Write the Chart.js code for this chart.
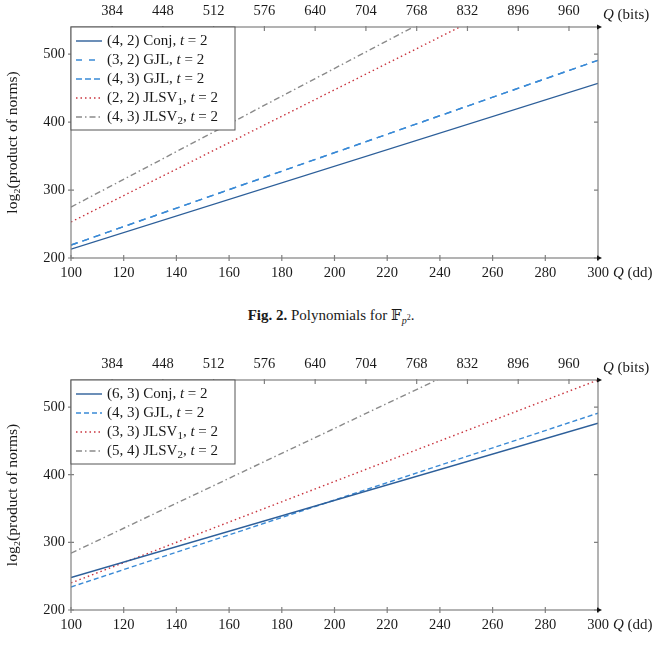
<!DOCTYPE html>
<html>
<head>
<meta charset="utf-8">
<script src="https://cdn.jsdelivr.net/npm/chart.js@4.4.0/dist/chart.umd.min.js"></script>
<style>
  body { margin: 0; background: #fff; width: 660px; height: 660px; position: relative; overflow: hidden;
         font-family: 'Liberation Serif', 'DejaVu Serif', serif; }
  canvas { position: absolute; left: 0; }
  #c1 { top: 0; }
  #c2 { top: 353px; }
  #cap { position: absolute; top: 305px; left: 0; width: 662px; text-align: center; font-size: 15px;
         line-height: 20px; color: #1a1a1a; }
  #cap sub { font-size: 10px; }
  #cap sup { font-size: 8px; }
</style>
</head>
<body>
<canvas id="c1" width="660" height="290"></canvas>
<div id="cap"><b>Fig. 2.</b> Polynomials for 𝔽<sub><i>p</i><sup>2</sup></sub>.</div>
<canvas id="c2" width="660" height="289"></canvas>

<script>
// données (Q en chiffres décimaux)
const qDD = [100, 300];
const bitsTicks = [384, 448, 512, 576, 640, 704, 768, 832, 896, 960];
const yTicks = [200, 300, 400, 500];

// graphique du haut
const topLabels = ['(4, 2) Conj, $t$ = 2', '(3, 2) GJL, $t$ = 2', '(4, 3) GJL, $t$ = 2',
                   '(2, 2) JLSV_1, $t$ = 2', '(4, 3) JLSV_2, $t$ = 2'];
const topConj42 = [213, 457];
const topGJL32 = [219, 491];
const topGJL43 = [219, 491];
const topJLSV1_22 = [253, 642];
const topJLSV2_43 = [275, 683];

// graphique du bas
const botLabels = ['(6, 3) Conj, $t$ = 2', '(4, 3) GJL, $t$ = 2',
                   '(3, 3) JLSV_1, $t$ = 2', '(5, 4) JLSV_2, $t$ = 2'];
const botConj63 = [248, 476];
const botGJL43 = [234, 491];
const botJLSV1_33 = [240, 540];
const botJLSV2_54 = [284, 653];

const SERIF = "'Liberation Serif', 'DejaVu Serif', serif";
const AXIS = '#808080';

// dash = tracé, key = échantillon de la légende
const styleConj = { color: '#2d5f9a', dash: [], key: [] };
const styleGJLa = { color: '#3a8ad6', dash: [7, 5], key: [6, 7] };
const styleGJLb = { color: '#3a8ad6', dash: [7, 5], key: [6, 3] };
const styleGJLc = { color: '#3a8ad6', dash: [5, 3], key: [5, 3] };
const styleJ1 = { color: '#c9343e', dash: [1.5, 3], key: [1.5, 3] };
const styleJ2 = { color: '#8a8a8a', dash: [6, 3, 1.5, 3], key: [6, 3, 1.5, 3] };

function drawRich(ctx, str, x, y, size) {
    const parts = str.split(/(\$[^$]+\$|_\d)/).filter(s => s);
    parts.forEach(p => {
        let font = size + 'px ' + SERIF, dy = 0, txt = p;
        if (p[0] === '$') { txt = p.slice(1, -1); font = 'italic ' + font; }
        else if (p[0] === '_') { txt = p.slice(1); font = Math.round(size * 0.7) + 'px ' + SERIF; dy = size * 0.28; }
        ctx.font = font;
        ctx.fillText(txt, x, y + dy);
        x += ctx.measureText(txt).width;
    });
}

// cadre, graduations, flèches, légende
const framePlugin = {
    id: 'frame',
    afterDraw(chart) {
        const ctx = chart.ctx;
        const a = chart.chartArea;
        const sx = chart.scales.x, sx2 = chart.scales.x2, sy = chart.scales.y;
        ctx.save();
        ctx.strokeStyle = AXIS;
        ctx.lineWidth = 1.2;
        ctx.setLineDash([]);
        ctx.strokeRect(a.left, a.top, a.right - a.left, a.bottom - a.top);
        ctx.beginPath();
        sx.ticks.forEach(t => {
            const px = sx.getPixelForValue(t.value);
            ctx.moveTo(px, a.bottom - 3); ctx.lineTo(px, a.bottom + 3);
        });
        sx2.ticks.forEach(t => {
            const px = sx2.getPixelForValue(t.value);
            ctx.moveTo(px, a.top - 1); ctx.lineTo(px, a.top + 4);
        });
        sy.ticks.forEach(t => {
            const py = sy.getPixelForValue(t.value);
            ctx.moveTo(a.left - 3, py); ctx.lineTo(a.left + 3, py);
            ctx.moveTo(a.right - 4, py); ctx.lineTo(a.right, py);
        });
        ctx.stroke();
        // flèches
        ctx.fillStyle = '#111';
        [a.bottom, a.top].forEach(py => {
            ctx.beginPath();
            ctx.moveTo(a.right + 4, py);
            ctx.lineTo(a.right - 1, py - 2.5);
            ctx.lineTo(a.right - 1, py + 2.5);
            ctx.closePath();
            ctx.fill();
        });
        // titres des axes x
        ctx.fillStyle = '#1a1a1a';
        ctx.textBaseline = 'middle';
        ctx.textAlign = 'left';
        drawRich(ctx, '$Q$ (dd)', a.right + 15, a.bottom + 15, 15);
        drawRich(ctx, '$Q$ (bits)', a.right + 5, a.top - 12, 15);
        // légende
        const n = chart.data.datasets.length;
        const lx = a.left, ly = a.top, lw = 164, lh = n * 19 + 8;
        ctx.fillStyle = '#fff';
        ctx.fillRect(lx, ly, lw, lh);
        ctx.strokeStyle = '#555';
        ctx.lineWidth = 1;
        ctx.strokeRect(lx, ly, lw, lh);
        chart.data.datasets.forEach((ds, i) => {
            const cy = ly + 14 + i * 19;
            ctx.strokeStyle = ds.borderColor;
            ctx.lineWidth = ds.borderWidth;
            ctx.setLineDash(ds.keyDash);
            ctx.beginPath();
            ctx.moveTo(lx + 5, cy); ctx.lineTo(lx + 31, cy);
            ctx.stroke();
            ctx.setLineDash([]);
            ctx.fillStyle = '#1a1a1a';
            drawRich(ctx, ds.label, lx + 36, cy, 15);
        });
        ctx.restore();
    }
};

function makeChart(id, labels, series, styles, plotBottom) {
    const canvas = document.getElementById(id);
    const datasets = series.map((vals, i) => ({
        label: labels[i],
        data: qDD.map((q, k) => ({ x: q, y: vals[k] })),
        borderColor: styles[i].color,
        borderDash: styles[i].dash,
        keyDash: styles[i].key,
        borderWidth: 1.4,
        pointRadius: 0,
        fill: false,
        tension: 0
    }));
    const tickFont = { family: SERIF, size: 14.5 };
    return new Chart(canvas, {
        type: 'line',
        data: { datasets },
        options: {
            responsive: false,
            animation: false,
            layout: { padding: { left: 0, right: 62, top: 0, bottom: 0 } },
            plugins: { legend: { display: false }, tooltip: { enabled: false } },
            scales: {
                x: {
                    type: 'linear', position: 'bottom', min: 100, max: 300,
                    ticks: { stepSize: 20, color: '#1a1a1a', font: tickFont, padding: 6, maxRotation: 0 },
                    grid: { display: false, drawTicks: false },
                    border: { display: false },
                    afterFit(s) { s.height = canvas.height - plotBottom; }
                },
                x2: {
                    type: 'linear', position: 'top', min: 100 * Math.log2(10), max: 300 * Math.log2(10),
                    ticks: { color: '#1a1a1a', font: tickFont, padding: 7, maxRotation: 0, autoSkip: false },
                    grid: { display: false, drawTicks: false },
                    border: { display: false },
                    afterBuildTicks(s) { s.ticks = bitsTicks.map(v => ({ value: v })); },
                    afterFit(s) { s.height = 27; }
                },
                y: {
                    type: 'linear', min: 200, max: 540,
                    ticks: { color: '#1a1a1a', font: tickFont, padding: 6, autoSkip: false },
                    grid: { display: false, drawTicks: false },
                    border: { display: false },
                    afterBuildTicks(s) { s.ticks = yTicks.map(v => ({ value: v })); },
                    afterFit(s) { s.width = 71; },
                    title: {
                        display: true, text: 'log₂(product of norms)', color: '#1a1a1a',
                        font: { family: SERIF, size: 15.5 }, padding: { top: 4, bottom: 0 }
                    }
                }
            }
        },
        plugins: [framePlugin]
    });
}

makeChart('c1', topLabels,
    [topConj42, topGJL32, topGJL43, topJLSV1_22, topJLSV2_43],
    [styleConj, styleGJLa, styleGJLb, styleJ1, styleJ2], 258);

makeChart('c2', botLabels,
    [botConj63, botGJL43, botJLSV1_33, botJLSV2_54],
    [styleConj, styleGJLc, styleJ1, styleJ2], 257);
</script>
</body>
</html>
